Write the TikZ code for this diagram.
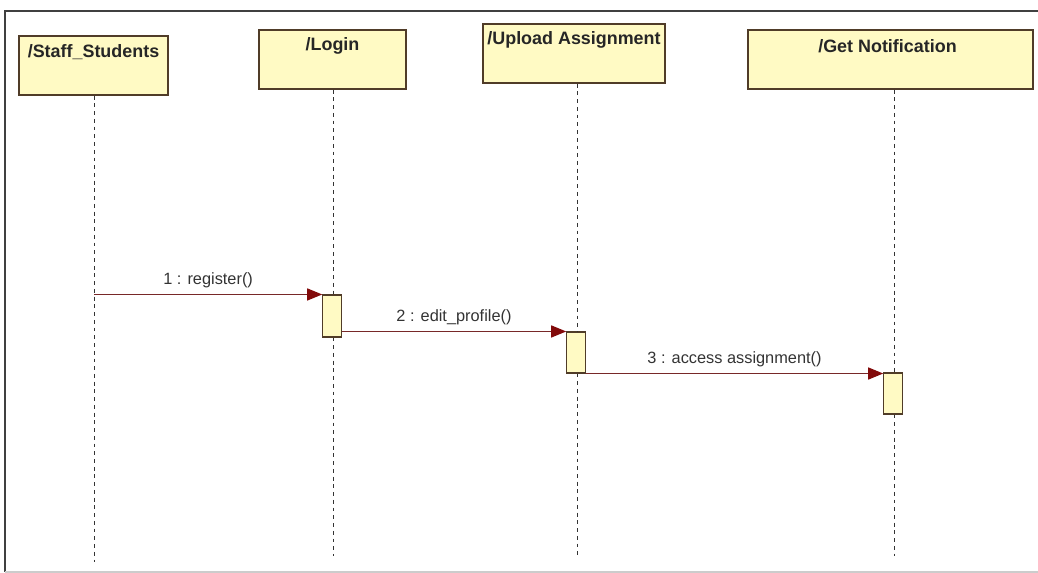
\documentclass[tikz,border=0pt]{standalone}
\usepackage{fontspec}
\setmainfont{Liberation Sans}
\usetikzlibrary{positioning,arrows.meta}

\definecolor{boxfill}{RGB}{255,250,196}
\definecolor{boxline}{RGB}{80,60,40}
\definecolor{msgline}{RGB}{120,40,40}
\definecolor{msghead}{RGB}{130,10,10}

\tikzset{
    lifebox/.style={draw=boxline, fill=boxfill, line width=0.8pt, inner sep=0pt},
    lifetitle/.style={font=\fontsize{10.2}{12}\selectfont\bfseries, text=black!85, inner sep=0pt},
    lifeline/.style={draw=black!80, dashed, dash pattern=on 2.2pt off 2.2pt, line width=0.5pt},
    actbox/.style={draw=boxline, fill=boxfill, line width=0.6pt, minimum width=0.37cm, inner sep=0pt},
    msg/.style={draw=msgline, line width=0.7pt, -{Triangle[length=0.3cm, width=0.24cm, fill=msghead, color=msghead]}},
    msglabel/.style={font=\fontsize{9.3}{11}\selectfont, text=black!80, inner sep=0pt}
}

\begin{document}
\begin{tikzpicture}[x=0.02cm, y=-0.02cm]
    \useasboundingbox (0,0) rectangle (1038,573);

    % frame
    \path[draw=black!75, line width=1.1pt] (5,572) -- (5,11) -- (1038,11);
    \path[draw=black!20, line width=0.6pt] (5,572) -- (1038,572);

    % lifeline heads
    \node[lifebox, minimum width=2.98cm, minimum height=1.18cm] (staff) at (93.5,65.5) {};
    \node[lifebox, minimum width=2.94cm, minimum height=1.18cm] (login) at (332.5,59.5) {};
    \node[lifebox, minimum width=3.64cm, minimum height=1.18cm] (upload) at (574,53.5) {};
    \node[lifebox, minimum width=5.70cm, minimum height=1.18cm] (notify) at (890.5,59.5) {};

    \node[lifetitle] (staffT) at ([yshift=-0.33cm]staff.north) {/Staff\_Students};
    \node[lifetitle] (loginT) at ([yshift=-0.33cm]login.north) {/Login};
    \node[lifetitle] (uploadT) at ([yshift=-0.33cm]upload.north) {/Upload Assignment};
    \node[lifetitle] (notifyT) at ([xshift=-0.06cm, yshift=-0.33cm]notify.north) {/Get Notification};

    % lifeline ends
    \coordinate (staffEnd) at (94,562);
    \coordinate (loginEnd) at (333,556);
    \coordinate (uploadEnd) at (577,558);
    \coordinate (notifyEnd) at (894,556);

    % activations
    \node[actbox, minimum height=0.84cm] (loginAct) at (332,316) {};
    \node[actbox, minimum height=0.82cm] (uploadAct) at (576,352.5) {};
    \node[actbox, minimum height=0.82cm] (notifyAct) at (893,393.5) {};

    % lifelines
    \path[lifeline] (staff.south -| staffEnd) -- (staffEnd);
    \path[lifeline] (login.south -| loginEnd) -- (loginAct.north -| loginEnd);
    \path[lifeline] (loginAct.south -| loginEnd) -- (loginEnd);
    \path[lifeline] (upload.south -| uploadEnd) -- (uploadAct.north -| uploadEnd);
    \path[lifeline] (uploadAct.south -| uploadEnd) -- (uploadEnd);
    \path[lifeline] (notify.south -| notifyEnd) -- (notifyAct.north -| notifyEnd);
    \path[lifeline] (notifyAct.south -| notifyEnd) -- (notifyEnd);

    % messages
    \path[msg] (staffEnd |- loginAct.north) -- node[msglabel, above=0.12cm] (m1) {1 : register()} (loginAct.north west);
    \path[msg] (loginAct.south east |- uploadAct.north) -- node[msglabel, above=0.12cm] (m2) {2 : edit\_profile()} (uploadAct.north west);
    \path[msg] (uploadAct.south east) -- node[msglabel, above=0.12cm] (m3) {3 : access assignment()} (uploadAct.south east -| notifyAct.west);
\end{tikzpicture}
\end{document}
